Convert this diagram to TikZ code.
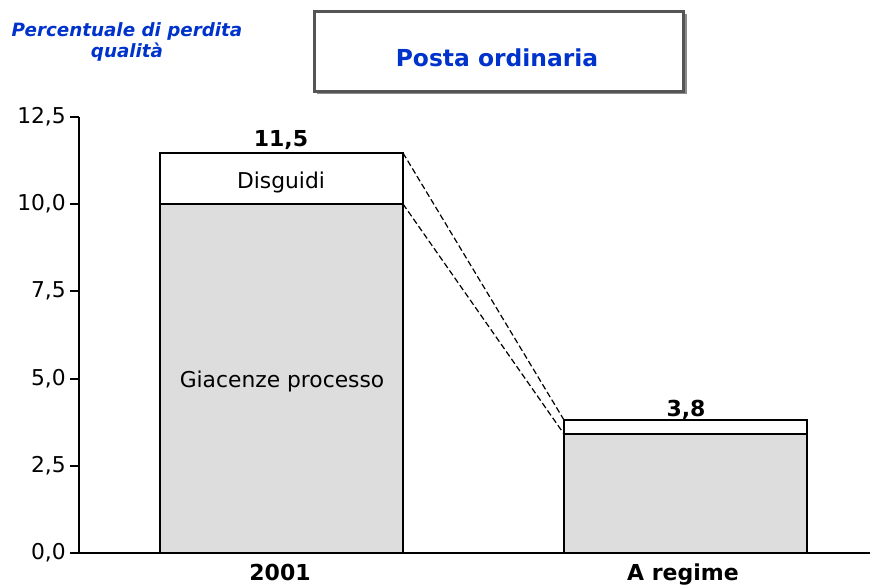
\documentclass[tikz,border=0pt]{standalone}
\usepackage{fontspec}
\setmainfont{DejaVu Sans}
\begin{document}
\begin{tikzpicture}[x=1pt,y=-1pt,
  lbl/.style={font=\fontsize{21.8}{26}\selectfont, inner sep=0pt},
  val/.style={font=\fontsize{22}{26}\selectfont\bfseries, inner sep=0pt},
  ttl/.style={font=\fontsize{18.3}{21}\selectfont\bfseries\itshape, text=titleblue, align=center, inner sep=0pt},
  barbox/.style={draw=black, line width=1.3pt},
  axis/.style={draw=black, line width=1.3pt},
  link/.style={draw=black, dash pattern=on 6pt off 3pt, line width=1.2pt}]
\definecolor{titleblue}{RGB}{0,51,204}
\definecolor{barfill}{RGB}{221,221,221}
\definecolor{frame}{RGB}{85,85,85}
\definecolor{shadow}{RGB}{140,140,140}
\useasboundingbox (0,0) rectangle (877,584);
% title box
\fill[shadow] (317,14) rectangle (687,94);
\node[draw=frame, line width=2.6pt, fill=white, minimum width=369pt, minimum height=80pt, anchor=north west, inner sep=0pt] (title) at (313,10) {};
\node[font=\fontsize{23.4}{27}\selectfont\bfseries, text=titleblue, inner sep=0pt, anchor=base] (titletext) at (497,66) {Posta ordinaria};
% top-left label
\node[ttl] (ylabel) at (127,42) {Percentuale di perdita\\qualità};
% axis
\coordinate (ytop) at (79,117);
\coordinate (origin) at (79,553);
\coordinate (xend) at (870,553);
\draw[axis] (ytop) -- (origin) -- (xend);
\foreach \yy in {553,466,379,291,204,117}{
  \draw[axis] (70,\yy) -- (79,\yy);
}
\node[lbl, anchor=east] (t0) at (66,553) {0,0};
\node[lbl, anchor=east] (t1) at (66,466) {2,5};
\node[lbl, anchor=east] (t2) at (66,379) {5,0};
\node[lbl, anchor=east] (t3) at (66,291) {7,5};
\node[lbl, anchor=east] (t4) at (66,204) {10,0};
\node[lbl, anchor=east] (t5) at (66,117) {12,5};
% bar 2001
\coordinate (b1mid) at (403,204);
\coordinate (b1top) at (403,153);
\filldraw[barbox, fill=barfill] (160,553) rectangle (b1mid);
\filldraw[barbox, fill=white] (160,204) rectangle (b1top);
\node[lbl, anchor=base] (giac) at (282,387) {Giacenze processo};
\node[lbl, anchor=base] (disg) at (281,188) {Disguidi};
\node[val, anchor=base] (v1) at (281,146) {11,5};
\node[val, anchor=base] (x1) at (280,580) {2001};
% bar A regime
\coordinate (b2mid) at (564,434);
\coordinate (b2top) at (564,420);
\filldraw[barbox, fill=barfill] (564,553) rectangle (807,434);
\filldraw[barbox, fill=white] (564,434) rectangle (807,420);
\node[val, anchor=base] (v2) at (686,416) {3,8};
\node[val, anchor=base] (x2) at (683,580) {A regime};
% connectors
\draw[link] (b1top) -- (b2top);
\draw[link] (b1mid) -- (b2mid);
\draw[axis] (origin) -- (xend);
\end{tikzpicture}
\end{document}
